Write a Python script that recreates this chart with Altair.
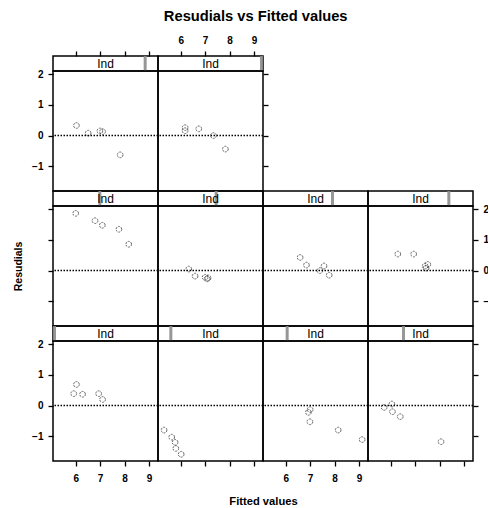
import altair as alt
import pandas as pd

title_text = "Resudials vs Fitted values"
x_title = "Fitted values"
y_title = "Resudials"
strip_label = "Ind"

# panel level (lattice order: 1 = bottom-left ... 10 = top-right)
panel = [1] * 5 + [2] * 5 + [3] * 5 + [4] * 5 + [5] * 5 + [6] * 5 + [7] * 5 + [8] * 5 + [9] * 5 + [10] * 5
fitted = [
    5.92, 6.03, 6.28, 6.94, 7.10,
    5.32, 5.63, 5.77, 5.80, 6.02,
    6.93, 7.00, 6.99, 8.15, 9.13,
    5.73, 6.05, 6.07, 6.39, 8.06,
    6.00, 6.79, 7.09, 7.77, 8.17,
    6.33, 6.59, 7.00, 7.08, 7.12,
    6.59, 6.85, 7.40, 7.57, 7.78,
    6.29, 6.94, 7.41, 7.52, 7.45,
    6.03, 6.51, 6.99, 7.10, 7.82,
    6.18, 6.18, 6.74, 7.34, 7.83,
]
resid = [
    0.39, 0.69, 0.37, 0.39, 0.20,
    -0.80, -1.03, -1.20, -1.40, -1.59,
    -0.22, -0.13, -0.53, -0.80, -1.11,
    -0.06, 0.05, -0.20, -0.36, -1.18,
    1.87, 1.63, 1.48, 1.35, 0.86,
    0.05, -0.18, -0.22, -0.27, -0.24,
    0.43, 0.18, 0.00, 0.15, -0.15,
    0.54, 0.54, 0.15, 0.20, 0.08,
    0.33, 0.08, 0.15, 0.13, -0.63,
    0.26, 0.16, 0.22, 0.00, -0.44,
]
x_ticks = [6, 7, 8, 9]
y_ticks = [-1, 0, 1, 2]
x_domain = [5.07, 9.37]
y_domain = [-1.81, 2.11]
n_levels = 10

df = pd.DataFrame({"panel": panel, "fitted": fitted, "resid": resid})

W, H, SH = 105, 120, 15
FONT = "Liberation Sans"


def make_axis(orient, labels, values, pad=5, **kw):
    return alt.Axis(
        orient=orient, values=values, labels=labels, ticks=True, domain=False,
        grid=False, tickSize=5, tickWidth=1.3, tickColor="black",
        labelFont=FONT, labelFontSize=10, labelFontWeight="bold",
        labelColor="black", labelPadding=pad, **kw
    )


def x_enc(axis):
    return alt.X("fitted:Q", scale=alt.Scale(domain=x_domain, nice=False, zero=False), axis=axis)


def y_enc(axis):
    return alt.Y("resid:Q", scale=alt.Scale(domain=y_domain, nice=False, zero=False), axis=axis)


def plot_cell(lv, yaxis=None, xaxis=None):
    d = df[df["panel"] == lv]
    pts = alt.Chart(d).mark_point(
        shape="circle", filled=False, size=32, strokeWidth=1, color="#222222",
        strokeDash=[2, 1]
    ).encode(x=x_enc(xaxis), y=y_enc(yaxis))
    zero = alt.Chart(pd.DataFrame({"resid": [0]})).mark_rule(
        color="black", strokeWidth=1.5, strokeDash=[1.5, 1.5]
    ).encode(y=y_enc(yaxis))
    return alt.layer(pts, zero).properties(width=W, height=H)


def strip_cell(lv, top_axis=None):
    base = alt.Chart(pd.DataFrame({"level": [lv], "label": [strip_label]}))
    marker = base.mark_tick(thickness=3, size=SH, color="#8c8c8c", opacity=0.9).encode(
        x=alt.X("level:Q", scale=alt.Scale(domain=[1, n_levels], range=[1.5, W - 1.5]), axis=None)
    )
    text = base.mark_text(font=FONT, fontSize=12, color="black").encode(
        text="label:N", x=alt.value(W / 2), y=alt.value(SH / 2 + 0.5)
    )
    layers = [marker, text]
    if top_axis is not None:
        ax = alt.Chart(df[df["panel"] == lv]).mark_point(opacity=0).encode(x=x_enc(top_axis))
        layers.append(ax)
    return alt.layer(*layers).resolve_scale(x="independent").properties(width=W, height=SH)


def empty_cell():
    return alt.Chart(pd.DataFrame({"a": [0]})).mark_point(opacity=0).encode(
        x=alt.value(0)
    ).properties(width=1, height=1, view=alt.ViewBackground(strokeOpacity=0, strokeWidth=0))


cells = [
    strip_cell(9, make_axis("top", False, x_ticks, title=None)),
    strip_cell(10, make_axis("top", True, x_ticks, pad=6, title=None)),
    empty_cell(), empty_cell(),
    plot_cell(9, yaxis=make_axis("left", True, y_ticks, title=None)),
    plot_cell(10, yaxis=make_axis("right", False, y_ticks, title=None)),
    empty_cell(), empty_cell(),
    strip_cell(5), strip_cell(6), strip_cell(7), strip_cell(8),
    plot_cell(5, yaxis=make_axis(
        "left", False, y_ticks, title=y_title, titleX=-35, titleY=60, titleAngle=270,
        titleAlign="center", titleBaseline="middle", titleFont=FONT, titleFontSize=10.5,
        titleFontWeight="bold", titleColor="black")),
    plot_cell(6), plot_cell(7),
    plot_cell(8, yaxis=make_axis("right", True, y_ticks, title=None)),
    strip_cell(1), strip_cell(2), strip_cell(3), strip_cell(4),
    plot_cell(1, yaxis=make_axis("left", True, y_ticks, title=None),
              xaxis=make_axis("bottom", True, x_ticks, pad=7, title=None)),
    plot_cell(2, xaxis=make_axis(
        "bottom", False, x_ticks, title=x_title, titleX=W, titleY=40, titleAlign="center",
        titleBaseline="middle", titleFont=FONT, titleFontSize=11.2, titleFontWeight="bold",
        titleColor="black")),
    plot_cell(3, xaxis=make_axis("bottom", True, x_ticks, pad=7, title=None)),
    plot_cell(4, yaxis=make_axis("right", False, y_ticks, title=None),
              xaxis=make_axis("bottom", False, x_ticks, title=None)),
]

chart = alt.concat(*cells, columns=4, spacing=0, bounds="flush", align="each").properties(
    title=alt.TitleParams(
        text=title_text, font=FONT, fontSize=14.7, fontWeight="bold", color="black",
        anchor="middle", frame="bounds", offset=11, dx=2
    ),
    padding={"left": 12, "top": 8, "right": -8, "bottom": 0},
    background="white",
).configure_view(stroke="black", strokeWidth=1.5)

chart.save("out.html", embed_options={"renderer": "svg", "actions": False})
